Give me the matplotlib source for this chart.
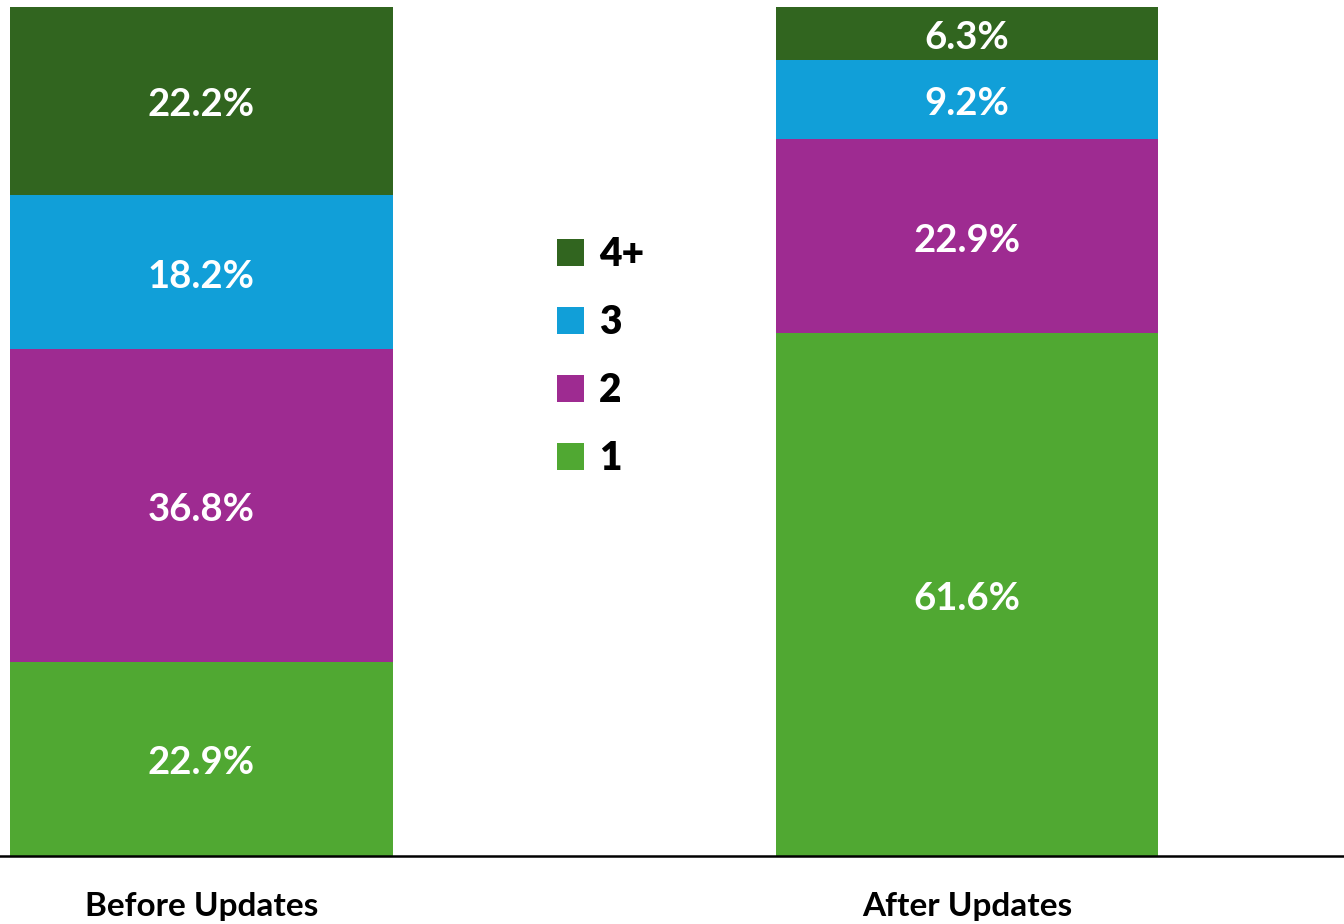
import matplotlib
matplotlib.use("Agg")
import matplotlib.pyplot as plt
import numpy as np

plt.rcParams['font.family'] = ['Lato', 'DejaVu Sans']
plt.rcParams['font.weight'] = 'bold'

categories = ["Before Updates", "After Updates"]
series_names = ["1", "2", "3", "4+"]
share_1 = [22.9, 61.6]
share_2 = [36.8, 22.9]
share_3 = [18.2, 9.2]
share_4plus = [22.2, 6.3]
colours = ["#50A832", "#9E2B91", "#119FD8", "#31651F"]

fig = plt.figure(figsize=(13.44, 9.24), dpi=100)
ax = fig.add_axes([0, 68 / 924, 1, 1 - 75 / 924])

x = np.arange(len(categories))
bottom = np.zeros(len(categories))
handles = []
for name, vals, col in zip(series_names, [share_1, share_2, share_3, share_4plus], colours):
    vals = np.array(vals)
    bars = ax.bar(x, vals, width=0.5, bottom=bottom, color=col, label=name)
    handles.append(bars)
    for xi, b, v in zip(x, bottom, vals):
        ax.text(xi, b + v / 2 - 0.2, f"{v:.1f}%", ha='center', va='center_baseline',
                color='white', fontsize=27.5, fontweight='bold')
    bottom += vals

ax.set_ylim(0, 100)
ax.set_xlim(-0.263, 1.4925)
ax.set_xticks(x)
ax.set_xticklabels(categories, fontsize=24, fontweight='bold')
ax.tick_params(axis='x', length=0, pad=26)
ax.set_yticks([])
for s in ['top', 'right', 'left']:
    ax.spines[s].set_visible(False)
ax.spines['bottom'].set_linewidth(1.8)
ax.spines['bottom'].set_color('black')

leg = ax.legend(handles[::-1], series_names[::-1], loc='center',
                bbox_to_anchor=(0.447, 0.614), bbox_transform=fig.transFigure,
                frameon=False, fontsize=28, handlelength=0.68, handleheight=0.68,
                handletextpad=0.4, labelspacing=0.8)
for t in leg.get_texts():
    t.set_fontweight('heavy')

fig.savefig("out.png", dpi=100)
